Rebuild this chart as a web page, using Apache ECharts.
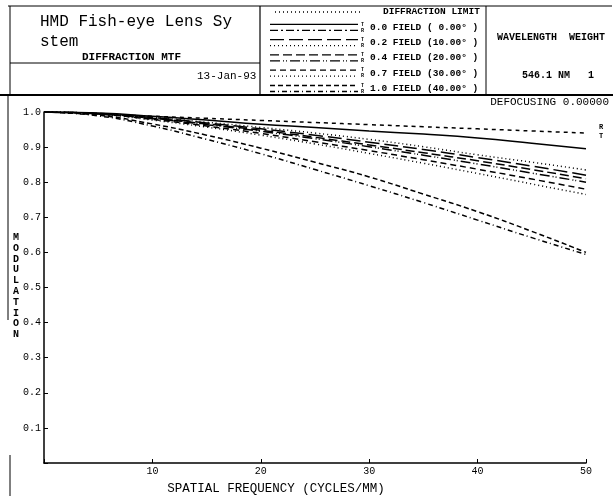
<!DOCTYPE html>
<html>
<head>
<meta charset="utf-8">
<script src="https://cdn.jsdelivr.net/npm/echarts@6/dist/echarts.min.js"></script>
<style>
  html, body { margin: 0; padding: 0; background: #fff; }
  #chart { width: 613px; height: 496px; }
</style>
</head>
<body>
<div id="chart"></div>
<script>
var chartDom = document.getElementById('chart');
var myChart = echarts.init(chartDom);

// spatial frequency (cycles/mm)
var freq = [0, 5, 10, 15, 20, 25, 30, 35, 40, 45, 50];

// MTF values
var diffLimit = [1, 0.994, 0.988, 0.982, 0.976, 0.970, 0.964, 0.958, 0.952, 0.946, 0.940];
var field00   = [1, 0.997, 0.988, 0.977, 0.965, 0.956, 0.946, 0.937, 0.926, 0.911, 0.895];
var field02T  = [1, 0.996, 0.984, 0.969, 0.952, 0.934, 0.914, 0.893, 0.870, 0.846, 0.820];
var field02R  = [1, 0.996, 0.985, 0.971, 0.956, 0.940, 0.922, 0.901, 0.878, 0.857, 0.835];
var field04T  = [1, 0.995, 0.982, 0.966, 0.948, 0.928, 0.906, 0.884, 0.861, 0.836, 0.810];
var field04R  = [1, 0.995, 0.981, 0.964, 0.945, 0.924, 0.901, 0.877, 0.852, 0.826, 0.800];
var field07T  = [1, 0.994, 0.979, 0.960, 0.939, 0.915, 0.890, 0.864, 0.837, 0.809, 0.780];
var field07R  = [1, 0.994, 0.977, 0.957, 0.934, 0.909, 0.882, 0.854, 0.825, 0.795, 0.765];
var field10T  = [1, 0.991, 0.966, 0.934, 0.897, 0.857, 0.815, 0.766, 0.716, 0.660, 0.600];
var field10R  = [1, 0.989, 0.960, 0.922, 0.881, 0.836, 0.790, 0.742, 0.692, 0.642, 0.594];

var legendLabels = [
    'DIFFRACTION LIMIT',
    '0.0 FIELD ( 0.00\u00b0 )',
    '0.2 FIELD (10.00\u00b0 )',
    '0.4 FIELD (20.00\u00b0 )',
    '0.7 FIELD (30.00\u00b0 )',
    '1.0 FIELD (40.00\u00b0 )'
];

var mono = '"Liberation Mono", "DejaVu Sans Mono", monospace';

// dash patterns
var styles = {
    dl: [4, 4],
    solid: 'solid',
    dashDot: [8, 3, 2, 3],
    longDash: [14, 5],
    dotted: [1, 3],
    dash: [9, 4],
    dashDots: [10, 3, 1, 2, 1, 3],
    medDash: [6, 4],
    shortDash: [5, 3],
    shortDashDot: [5, 3, 1, 3]
};

function toPairs(vals) {
    return freq.map(function (f, i) { return [f, vals[i]]; });
}

function line(name, vals, type) {
    return {
        name: name,
        type: 'line',
        data: toPairs(vals),
        smooth: true,
        symbol: 'none',
        silent: true,
        lineStyle: { color: '#000', width: 1.5, type: type }
    };
}

// legend samples drawn in the header box
var legendRows = [
    [styles.dotted, null],
    [styles.solid, styles.dashDot],
    [styles.longDash, styles.dotted],
    [styles.dash, styles.dashDots],
    [styles.medDash, styles.dotted],
    [styles.shortDash, styles.shortDashDot]
];
var graphics = [
    // header borders
    { type: 'line', shape: { x1: 8, y1: 6, x2: 612, y2: 6 }, style: { stroke: '#000', lineWidth: 1 } },
    { type: 'line', shape: { x1: 10, y1: 6, x2: 10, y2: 95 }, style: { stroke: '#000', lineWidth: 1 } },
    { type: 'line', shape: { x1: 10, y1: 63, x2: 260, y2: 63 }, style: { stroke: '#000', lineWidth: 1 } },
    { type: 'line', shape: { x1: 260, y1: 6, x2: 260, y2: 95 }, style: { stroke: '#000', lineWidth: 1.2 } },
    { type: 'line', shape: { x1: 486, y1: 6, x2: 486, y2: 95 }, style: { stroke: '#000', lineWidth: 1 } },
    { type: 'line', shape: { x1: 0, y1: 95, x2: 613, y2: 95 }, style: { stroke: '#000', lineWidth: 2 } },
    { type: 'line', shape: { x1: 8, y1: 95, x2: 8, y2: 320 }, style: { stroke: '#000', lineWidth: 1 } },
    { type: 'line', shape: { x1: 10, y1: 455, x2: 10, y2: 496 }, style: { stroke: '#000', lineWidth: 1 } },
    // header text
    { type: 'text', left: 40, top: 12, style: { text: 'HMD Fish-eye Lens Sy\nstem', font: '16px ' + mono, lineHeight: 20, fill: '#000' } },
    { type: 'text', left: 82, top: 52, style: { text: 'DIFFRACTION MTF', font: 'bold 11px ' + mono, fill: '#000' } },
    { type: 'text', left: 197, top: 71, style: { text: '13-Jan-93', font: '11px ' + mono, fill: '#000' } },
    { type: 'text', left: 497, top: 32, style: { text: 'WAVELENGTH  WEIGHT', font: 'bold 10px ' + mono, fill: '#000' } },
    { type: 'text', left: 522, top: 70, style: { text: '546.1 NM   1', font: 'bold 10px ' + mono, fill: '#000' } },
    { type: 'text', right: 4, top: 97, style: { text: 'DEFOCUSING 0.00000', font: '11px ' + mono, fill: '#000' } },
    // MODULATION stacked label
    { type: 'text', left: 13, top: 232, style: { text: 'M\nO\nD\nU\nL\nA\nT\nI\nO\nN', font: 'bold 10px ' + mono, lineHeight: 10.8, fill: '#000' } },
    // R / T labels at line ends
    { type: 'text', left: 599, top: 124, style: { text: 'R', font: 'bold 7px ' + mono, fill: '#000' } },
    { type: 'text', left: 599, top: 133, style: { text: 'T', font: 'bold 7px ' + mono, fill: '#000' } }
];
legendRows.forEach(function (row, i) {
    var y = 12 + i * 15.3;
    if (row[1] === null) {
        graphics.push({ type: 'line', shape: { x1: 275, y1: y, x2: 360, y2: y }, style: { stroke: '#000', lineWidth: 1.3, lineDash: row[0] } });
    } else {
        graphics.push({ type: 'line', shape: { x1: 270, y1: y - 3, x2: 358, y2: y - 3 }, style: { stroke: '#000', lineWidth: 1.3, lineDash: row[0] === 'solid' ? null : row[0] } });
        graphics.push({ type: 'line', shape: { x1: 270, y1: y + 3, x2: 358, y2: y + 3 }, style: { stroke: '#000', lineWidth: 1.3, lineDash: row[1] } });
        graphics.push({ type: 'text', left: 361, top: y - 6, style: { text: 'T\nR', font: 'bold 5px ' + mono, lineHeight: 6, fill: '#000' } });
    }
    graphics.push({ type: 'text', left: i === 0 ? 383 : 370, top: y - 5, style: { text: legendLabels[i], font: 'bold 9.5px ' + mono, fill: '#000' } });
});

var option = {
    animation: false,
    backgroundColor: '#fff',
    textStyle: { fontFamily: mono },
    grid: {
        left: 44,
        right: 27,
        top: 112,
        bottom: 33,
        containLabel: false,
        outerBoundsMode: 'none'
    },
    xAxis: {
        type: 'value',
        min: 0,
        max: 50,
        interval: 10,
        name: 'SPATIAL FREQUENCY (CYCLES/MM)',
        nameLocation: 'middle',
        nameGap: 19,
        nameTextStyle: { color: '#000', fontSize: 12.5, fontFamily: mono, padding: [0, 78, 0, 0] },
        axisLine: { lineStyle: { color: '#000', width: 1.5 } },
        axisTick: { inside: true, length: 4, lineStyle: { color: '#000' } },
        axisLabel: {
            color: '#000',
            fontSize: 10,
            fontFamily: mono,
            margin: 3,
            formatter: function (v) { return v === 0 ? '' : String(v); }
        },
        splitLine: { show: false }
    },
    yAxis: {
        type: 'value',
        min: 0,
        max: 1,
        interval: 0.1,
        axisLine: { show: true, lineStyle: { color: '#000', width: 1.5 } },
        axisTick: { show: true, inside: true, length: 4, lineStyle: { color: '#000' } },
        axisLabel: {
            color: '#000',
            fontSize: 10,
            fontFamily: mono,
            margin: 3,
            formatter: function (v) { return v === 0 ? '' : v.toFixed(1); }
        },
        splitLine: { show: false }
    },
    series: [
        line('DIFFRACTION LIMIT', diffLimit, styles.dl),
        line('0.0 FIELD', field00, styles.solid),
        line('0.2 FIELD T', field02T, styles.longDash),
        line('0.2 FIELD R', field02R, styles.dotted),
        line('0.4 FIELD T', field04T, styles.dash),
        line('0.4 FIELD R', field04R, styles.dashDots),
        line('0.7 FIELD T', field07T, styles.medDash),
        line('0.7 FIELD R', field07R, styles.dotted),
        line('1.0 FIELD T', field10T, styles.shortDash),
        line('1.0 FIELD R', field10R, styles.shortDashDot)
    ],
    graphic: graphics
};

myChart.setOption(option);
</script>
</body>
</html>
